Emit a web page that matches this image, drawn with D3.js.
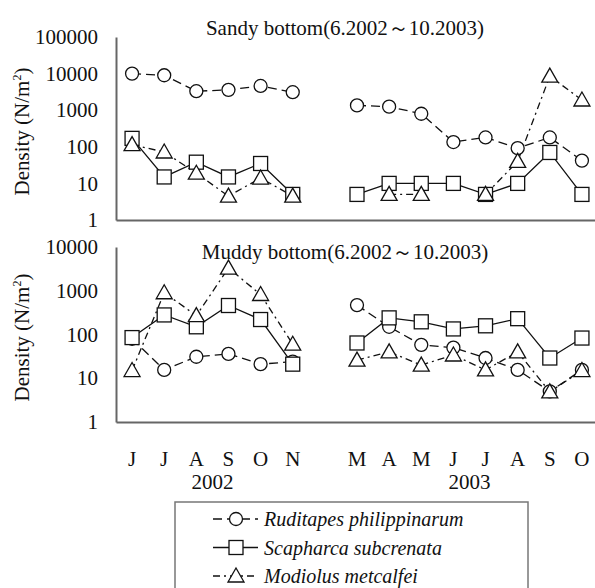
<!DOCTYPE html>
<html lang="en">
  <head>
    <meta charset="utf-8">
    <title>Bivalve density</title>
    <script src="https://d3js.org/d3.v7.min.js"></script>
    <style>
      body {
        margin: 0;
        background: #fff;
      }
      .axis path {
        stroke: #666;
        stroke-width: 2px;
      }
    </style>
  </head>
  <body>
    <div id="chart"></div>
    <script>

    // data ************************************

    // 15 slots: Jun-Nov 2002, one empty slot, Mar-Oct 2003
    let months = ["J", "J", "A", "S", "O", "N", "", "M", "A", "M", "J", "J", "A", "S", "O"]
    let years = [{label: "2002", from: 2, to: 3}, {label: "2003", from: 10, to: 11}]

    let sandyRuditapes = [10000, 9000, 3300, 3600, 4600, 3100, null, 1350, 1250, 800, 135, 180, 92, 180, 42]
    let sandyScapharca = [170, 15, 38, 15, 35, 5, null, 5, 10, 10, 10, 5, 10, 70, 5]
    let sandyModiolus  = [115, 72, 19, 4.5, 14, 4.5, null, null, 5, 5, null, 5, 40, 8500, 1900]

    let muddyRuditapes = [80, 15.5, 31, 36, 21, 24, null, 470, 150, 58, 50, 29, 15.5, 5, 15.5]
    let muddyScapharca = [85, 280, 150, 460, 220, 21, null, 64, 240, 195, 134, 158, 230, 29, 83]
    let muddyModiolus  = [15, 900, 270, 3300, 820, 60, null, 26, 40, 20, 34, 15.5, 40, 4.9, 15]

    let sandyTicks = [1, 10, 100, 1000, 10000, 100000]
    let muddyTicks = [1, 10, 100, 1000, 10000]

    let speciesNames = ["Ruditapes philippinarum", "Scapharca subcrenata", "Modiolus metcalfei"]

    // settings ****************************

    const width = 595, height = 588
    const serif = "'Liberation Serif', Tinos, 'Times New Roman', Times, serif"

    let svg = d3.select("#chart")
      .append("svg")
        .attr("width", width)
        .attr("height", height)
        .attr("font-family", serif)

    let slots = d3.range(months.length)

    let x = d3.scaleBand()
      .domain(slots)
      .range([116, 598])
      .padding(0)

    let cx = i => x(i) + x.bandwidth() / 2

    // style per species: dash pattern + marker kind
    let styles = [
      {dash: "9,5", marker: "circle"},
      {dash: null, marker: "square"},
      {dash: "7,4,2,4", marker: "triangle"}
    ]

    function drawMarker(g, kind, px, py) {
      if (kind == "circle") {
        g.append("circle").attr("cx", px).attr("cy", py).attr("r", 6.5)
      } else if (kind == "square") {
        g.append("rect").attr("x", px - 7).attr("y", py - 7).attr("width", 14).attr("height", 14)
      } else {
        g.append("path").attr("d", `M${px},${py - 8}L${px + 8},${py + 6}L${px - 8},${py + 6}Z`)
      }
    }

    function txt(sel) {
      return sel.style("font-family", serif).style("fill", "#111")
    }

    // one panel
    function panel(series, ticks, yTop, yBottom, title, titleY, showMonths) {

      let y = d3.scaleLog()
        .domain([1, d3.max(ticks)])
        .range([yBottom, yTop])

      // axes
      let yAxis = svg.append("g")
        .attr("class", "axis")
        .attr("transform", `translate(116,0)`)
        .call(d3.axisLeft(y).tickValues(ticks).tickFormat(d3.format("d")).tickSize(0).tickPadding(18))

      let xAxis = svg.append("g")
        .attr("class", "axis")
        .attr("transform", `translate(0,${yBottom})`)
        .call(d3.axisBottom(x).tickSize(0).tickPadding(29).tickFormat(i => showMonths ? months[i] : ""))

      yAxis.selectAll("text").call(txt).style("font-size", "21px")
      xAxis.selectAll("text").call(txt).style("font-size", "21px")

      svg.append("text")
        .attr("x", 345)
        .attr("y", titleY)
        .attr("text-anchor", "middle")
        .style("font-size", "21px")
        .call(txt)
        .text(title)

      // y label
      let lab = svg.append("text")
        .attr("transform", `translate(29,${(yTop + yBottom) / 2 + 3}) rotate(-90)`)
        .attr("text-anchor", "middle")
        .style("font-size", "21px")
        .call(txt)
      lab.append("tspan").text("Density (N/m")
      lab.append("tspan").attr("dy", -8).style("font-size", "12px").text("2")
      lab.append("tspan").attr("dy", 8).text(")")

      // lines
      series.forEach((vals, s) => {
        let line = d3.line()
          .defined(d => d != null)
          .x((d, i) => cx(i))
          .y(d => y(d))
        svg.append("path")
          .datum(vals)
          .attr("d", line)
          .attr("fill", "none")
          .attr("stroke", "#111")
          .attr("stroke-width", 1.3)
          .attr("stroke-dasharray", styles[s].dash)
      })

      // markers: circles, squares, then triangles on top
      series.forEach((vals, s) => {
        let g = svg.append("g")
          .attr("fill", "#fff")
          .attr("stroke", "#111")
          .attr("stroke-width", 1.3)
        vals.forEach((v, i) => {
          if (v != null) drawMarker(g, styles[s].marker, cx(i), y(v))
        })
      })
    }

    panel([sandyRuditapes, sandyScapharca, sandyModiolus], sandyTicks, 37, 220,
      "Sandy bottom(6.2002～10.2003)", 35, false)

    panel([muddyRuditapes, muddyScapharca, muddyModiolus], muddyTicks, 247, 422,
      "Muddy bottom(6.2002～10.2003)", 259, true)

    // year labels
    svg.selectAll(".year")
      .data(years)
      .join("text")
        .attr("x", d => (cx(d.from) + cx(d.to)) / 2)
        .attr("y", 489)
        .attr("text-anchor", "middle")
        .style("font-size", "21px")
        .call(txt)
        .text(d => d.label)

    // legend
    let legend = svg.append("g")
    legend.append("rect")
      .attr("x", 175)
      .attr("y", 502)
      .attr("width", 353)
      .attr("height", 100)
      .attr("fill", "#fff")
      .attr("stroke", "#777")
      .attr("stroke-width", 1.5)

    speciesNames.forEach((name, s) => {
      let ly = 519 + s * 28.5
      let g = legend.append("g")
        .attr("fill", "#fff")
        .attr("stroke", "#111")
        .attr("stroke-width", 1.3)
      g.append("line")
        .attr("x1", 213).attr("x2", 258)
        .attr("y1", ly).attr("y2", ly)
        .attr("stroke-dasharray", styles[s].dash)
      drawMarker(g, styles[s].marker, 236, ly)
      legend.append("text")
        .attr("x", 264)
        .attr("y", ly + 7)
        .style("font-size", "20px")
        .style("font-style", "italic")
        .call(txt)
        .text(name)
    })

    </script>
  </body>
</html>
